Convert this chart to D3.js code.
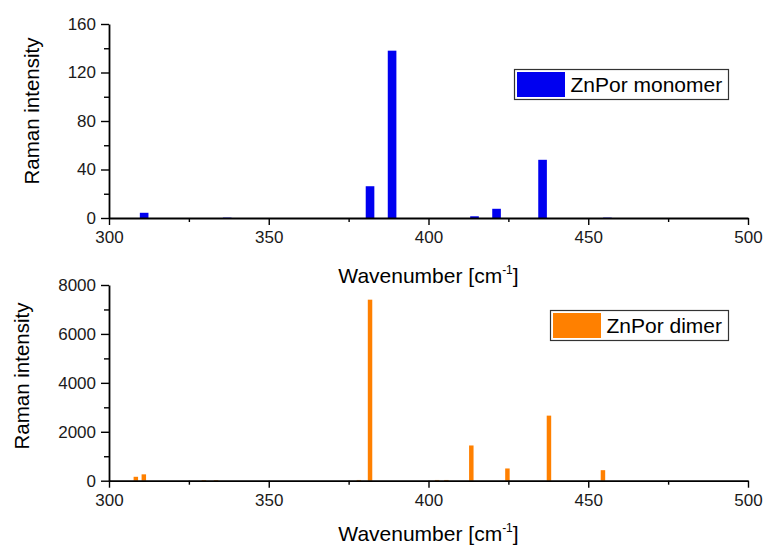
<!DOCTYPE html>
<html>
<head>
<meta charset="utf-8">
<script src="https://cdn.jsdelivr.net/npm/d3@7"></script>
<style>
  html, body { margin: 0; padding: 0; background: #fff; }
  svg { display: block; font-family: "Liberation Sans", Arial, sans-serif; }
</style>
</head>
<body>
<svg id="chart" width="763" height="547"></svg>
<script>
// Calculated Raman lines of the zinc porphyrin monomer and dimer
const monomerWavenumber = [311, 337, 381.7, 388.6, 414.4, 421.3, 435.7, 456];
const monomerIntensity  = [4.3, 0.3, 26.2, 138, 1.4, 7.6, 48, 0.3];

const dimerWavenumber = [308.4, 310.9, 329.7, 333.5, 378.2, 381.7, 402.7, 405.6, 413.4, 424.7, 437.7, 454.6];
const dimerIntensity  = [160, 260, 25, 25, 30, 7400, 30, 30, 1440, 500, 2660, 430];

const xMajorTicks = [300, 350, 400, 450, 500];
const xMinorTicks = [325, 375, 425, 475];
const monomerMajorTicks = [0, 40, 80, 120, 160];
const monomerMinorTicks = [20, 60, 100, 140];
const dimerMajorTicks = [0, 2000, 4000, 6000, 8000];
const dimerMinorTicks = [1000, 3000, 5000, 7000];

const svg = d3.select("#chart");
const x = d3.scaleLinear().domain([300, 500]).range([109, 748]);

function drawPanel(opt) {
  const g = svg.append("g");
  const y = d3.scaleLinear().domain(opt.yDomain).range(opt.yRange);
  const y0 = y(0);

  // bars
  g.selectAll("rect.bar")
    .data(opt.wavenumbers.map((w, i) => ({ w, v: opt.values[i] })))
    .join("rect")
    .attr("class", "bar")
    .attr("x", d => x(d.w - opt.barWidth / 2))
    .attr("width", d => x(d.w + opt.barWidth / 2) - x(d.w - opt.barWidth / 2))
    .attr("y", d => y(d.v))
    .attr("height", d => y0 - y(d.v))
    .attr("fill", opt.color);

  const styleAxis = sel => {
    sel.select(".domain").attr("stroke", "#000").attr("stroke-width", 1.8);
    sel.selectAll(".tick line").attr("stroke", "#000").attr("stroke-width", 1.4);
    sel.selectAll(".tick text")
      .attr("fill", "#1a1a1a")
      .attr("font-size", 17);
  };

  // x axis
  const gx = g.append("g").attr("transform", `translate(0,${y0})`)
    .call(d3.axisBottom(x).tickValues(xMajorTicks).tickFormat(d3.format("d"))
      .tickSize(7).tickSizeOuter(0).tickPadding(6));
  styleAxis(gx);
  const gxm = g.append("g").attr("transform", `translate(0,${y0})`)
    .call(d3.axisBottom(x).tickValues(xMinorTicks).tickFormat("").tickSize(4).tickSizeOuter(0));
  gxm.select(".domain").remove();
  styleAxis(gxm);

  // y axis
  const gy = g.append("g").attr("transform", `translate(${x(300)},0)`)
    .call(d3.axisLeft(y).tickValues(opt.majorTicks).tickFormat(d3.format("d"))
      .tickSize(8).tickSizeOuter(0).tickPadding(5));
  styleAxis(gy);
  const gym = g.append("g").attr("transform", `translate(${x(300)},0)`)
    .call(d3.axisLeft(y).tickValues(opt.minorTicks).tickFormat("").tickSize(5).tickSizeOuter(0));
  gym.select(".domain").remove();
  styleAxis(gym);

  // axis titles
  const xt = g.append("text")
    .attr("x", (x(300) + x(500)) / 2)
    .attr("y", opt.xTitleY)
    .attr("text-anchor", "middle")
    .attr("font-size", 21)
    .attr("fill", "#000");
  xt.append("tspan").text("Wavenumber [cm");
  xt.append("tspan").attr("font-size", 12).attr("dy", -9).text("-1");
  xt.append("tspan").attr("dy", 9).text("]");

  g.append("text")
    .attr("transform", `translate(${opt.yTitleX},${opt.yTitleY}) rotate(-90)`)
    .attr("text-anchor", "middle")
    .attr("font-size", 20.5)
    .attr("fill", "#000")
    .text("Raman intensity");

  // legend
  const L = opt.legend;
  const lg = g.append("g");
  lg.append("rect")
    .attr("x", L.x).attr("y", L.y).attr("width", L.w).attr("height", L.h)
    .attr("fill", "#fff").attr("stroke", "#333").attr("stroke-width", 1.2);
  lg.append("rect")
    .attr("x", L.x + 2.5).attr("y", L.y + 2.5).attr("width", 48).attr("height", L.h - 5)
    .attr("fill", opt.color);
  lg.append("text")
    .attr("x", L.x + 56).attr("y", L.y + L.h / 2 + 7.5)
    .attr("font-size", 21).attr("fill", "#000")
    .text(opt.label);
}

drawPanel({
  wavenumbers: monomerWavenumber,
  values: monomerIntensity,
  barWidth: 2.7,
  color: "#0000f0",
  yDomain: [0, 160],
  yRange: [218, 24],
  majorTicks: monomerMajorTicks,
  minorTicks: monomerMinorTicks,
  xTitleY: 283,
  yTitleX: 39,
  yTitleY: 111,
  label: "ZnPor monomer",
  legend: { x: 514.5, y: 69.5, w: 214, h: 30 }
});

drawPanel({
  wavenumbers: dimerWavenumber,
  values: dimerIntensity,
  barWidth: 1.4,
  color: "#ff8000",
  yDomain: [0, 8000],
  yRange: [480.7, 285],
  majorTicks: dimerMajorTicks,
  minorTicks: dimerMinorTicks,
  xTitleY: 541,
  yTitleX: 29,
  yTitleY: 376,
  label: "ZnPor dimer",
  legend: { x: 550.5, y: 310.5, w: 178, h: 30 }
});
</script>
</body>
</html>
